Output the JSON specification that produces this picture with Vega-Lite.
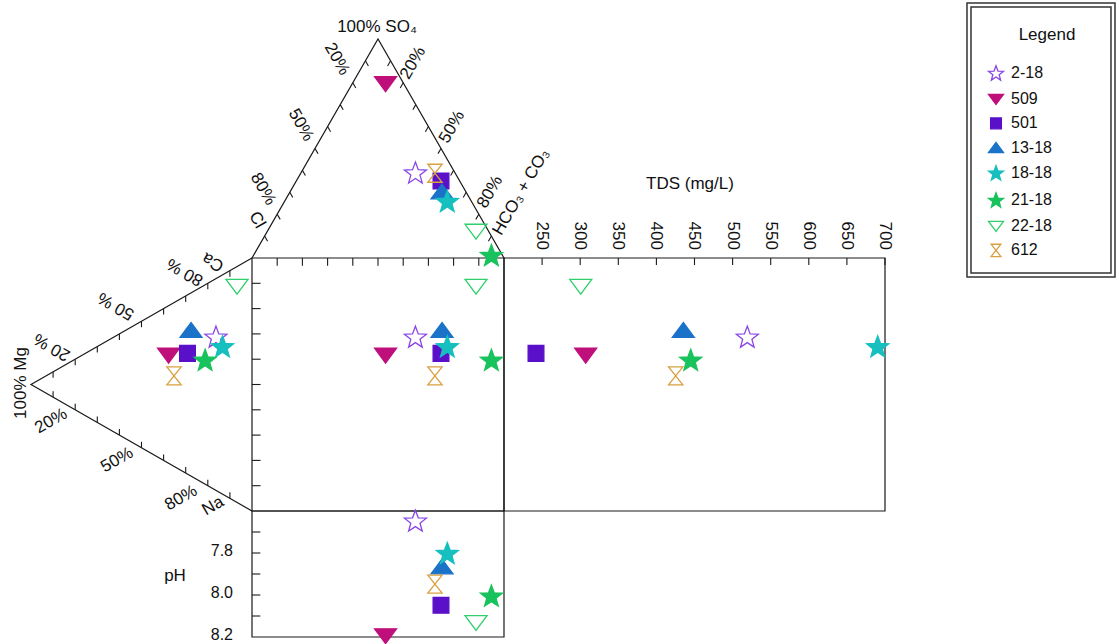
{
"$schema": "https://vega.github.io/schema/vega-lite/v6.json",
"width": 1119, "height": 644, "padding": 0, "autosize": "none", "background": "white",
"config": {
 "view": {"stroke": null},
 "axis": {"disable": true},
 "font": "Liberation Sans",
 "legend": {"orient": "none", "legendX": 987, "legendY": 64, "padding": 0, "labelFont": "Liberation Sans", "labelFontSize": 16, "labelColor": "#111", "symbolSize": 250, "symbolStrokeWidth": 1.3, "labelOffset": 6, "rowPadding": 7.2}
},
"datasets": {
 "samples": [
  {"id":"2-18","ax":64.85,"ay":133.8,"cx":-14.3,"cy":68.9,"tds":519.3,"ph":7.646},
  {"id":"509","ax":53.0,"ay":168.8,"cx":-33.1,"cy":61.5,"tds":307.2,"ph":8.195},
  {"id":"501","ax":75.0,"ay":130.4,"cx":-25.6,"cy":62.3,"tds":242.0,"ph":8.049},
  {"id":"13-18","ax":75.4,"ay":126.2,"cx":-24.2,"cy":71.5,"tds":435.3,"ph":7.865},
  {"id":"18-18","ax":77.5,"ay":122.5,"cx":-11.7,"cy":65.1,"tds":690.4,"ph":7.80},
  {"id":"21-18","ax":95.0,"ay":101.2,"cx":-18.6,"cy":59.8,"tds":445.0,"ph":8.003},
  {"id":"22-18","ax":88.9,"ay":110.5,"cx":-5.95,"cy":88.7,"tds":300.7,"ph":8.132},
  {"id":"612","ax":72.6,"ay":133.5,"cx":-30.95,"cy":53.4,"tds":425.3,"ph":7.948}
 ],
 "boxes": [
  {"x":0,"x2":100,"y":0,"y2":100},
  {"x":100,"x2":251.19,"y":0,"y2":100},
  {"x":0,"x2":100,"y":-49.8,"y2":0}
 ],
 "legendBoxes": [
  {"x":283.73,"x2":342.46,"y":92.49,"y2":200.79},
  {"x":285.32,"x2":340.87,"y":94.07,"y2":199.21}
 ],
 "tri": [
  {"tri":"a","o":0,"x":0,"y":100},{"tri":"a","o":1,"x":50,"y":186.6},{"tri":"a","o":2,"x":100,"y":100},
  {"tri":"c","o":0,"x":0,"y":100},{"tri":"c","o":1,"x":-87.7,"y":50},{"tri":"c","o":2,"x":0,"y":0}
 ],
 "ticks": [
  {"x":10,"y":100,"x2":10,"y2":96.9},{"x":20,"y":100,"x2":20,"y2":96.9},{"x":30,"y":100,"x2":30,"y2":96.9},
  {"x":40,"y":100,"x2":40,"y2":96.9},{"x":50,"y":100,"x2":50,"y2":96.9},{"x":60,"y":100,"x2":60,"y2":96.9},
  {"x":70,"y":100,"x2":70,"y2":96.9},{"x":80,"y":100,"x2":80,"y2":96.9},{"x":90,"y":100,"x2":90,"y2":96.9},
  {"x":0,"y":10,"x2":3.4,"y2":10},{"x":0,"y":20,"x2":3.4,"y2":20},{"x":0,"y":30,"x2":3.4,"y2":30},
  {"x":0,"y":40,"x2":3.4,"y2":40},{"x":0,"y":50,"x2":3.4,"y2":50},{"x":0,"y":60,"x2":3.4,"y2":60},
  {"x":0,"y":70,"x2":3.4,"y2":70},{"x":0,"y":80,"x2":3.4,"y2":80},{"x":0,"y":90,"x2":3.4,"y2":90},
  {"x":5,"y":108.66,"x2":6.19,"y2":106.61},{"x":10,"y":117.32,"x2":11.19,"y2":115.27},{"x":15,"y":125.98,"x2":16.19,"y2":123.93},
  {"x":20,"y":134.64,"x2":21.19,"y2":132.59},{"x":25,"y":143.3,"x2":26.19,"y2":141.25},{"x":30,"y":151.96,"x2":31.19,"y2":149.91},
  {"x":35,"y":160.62,"x2":36.19,"y2":158.57},{"x":40,"y":169.28,"x2":41.19,"y2":167.23},{"x":45,"y":177.94,"x2":46.19,"y2":175.89},
  {"x":95,"y":108.66,"x2":93.81,"y2":106.61},{"x":90,"y":117.32,"x2":88.81,"y2":115.27},{"x":85,"y":125.98,"x2":83.81,"y2":123.93},
  {"x":80,"y":134.64,"x2":78.81,"y2":132.59},{"x":75,"y":143.3,"x2":73.81,"y2":141.25},{"x":70,"y":151.96,"x2":68.81,"y2":149.91},
  {"x":65,"y":160.62,"x2":63.81,"y2":158.57},{"x":60,"y":169.28,"x2":58.81,"y2":167.23},{"x":55,"y":177.94,"x2":53.81,"y2":175.89},
  {"x":-8.77,"y":95,"x2":-8.77,"y2":92.63},{"x":-17.54,"y":90,"x2":-17.54,"y2":87.63},{"x":-26.31,"y":85,"x2":-26.31,"y2":82.63},
  {"x":-35.08,"y":80,"x2":-35.08,"y2":77.63},{"x":-43.85,"y":75,"x2":-43.85,"y2":72.63},{"x":-52.62,"y":70,"x2":-52.62,"y2":67.63},
  {"x":-61.39,"y":65,"x2":-61.39,"y2":62.63},{"x":-70.16,"y":60,"x2":-70.16,"y2":57.63},{"x":-78.93,"y":55,"x2":-78.93,"y2":52.63},
  {"x":-8.77,"y":5,"x2":-8.77,"y2":7.37},{"x":-17.54,"y":10,"x2":-17.54,"y2":12.37},{"x":-26.31,"y":15,"x2":-26.31,"y2":17.37},
  {"x":-35.08,"y":20,"x2":-35.08,"y2":22.37},{"x":-43.85,"y":25,"x2":-43.85,"y2":27.37},{"x":-52.62,"y":30,"x2":-52.62,"y2":32.37},
  {"x":-61.39,"y":35,"x2":-61.39,"y2":37.37},{"x":-70.16,"y":40,"x2":-70.16,"y2":42.37},{"x":-78.93,"y":45,"x2":-78.93,"y2":47.37}
 ],
 "labels": [
  {"g":"h","x":49.6,"y":191.3,"t":"100% SO₄"},
  {"g":"h","x":173.81,"y":129.25,"t":"TDS (mg/L)"},
  {"g":"h","x":-30.56,"y":-25.69,"t":"pH"},
  {"g":"h","x":315.48,"y":188.14,"t":"Legend"},
  {"g":"a60","x":33.73,"y":178.66,"t":"20%"},
  {"g":"a60","x":19.44,"y":152.57,"t":"50%"},
  {"g":"a60","x":4.37,"y":127.27,"t":"80%"},
  {"g":"a60","x":1.98,"y":115.02,"t":"Cl"},
  {"g":"m60","x":63.89,"y":177.08,"t":"20%"},
  {"g":"m60","x":79.37,"y":151.78,"t":"50%"},
  {"g":"m60","x":94.44,"y":126.09,"t":"80%"},
  {"g":"m60","x":106.75,"y":126.09,"t":"HCO₃ + CO₃"},
  {"g":"a210","x":-15.48,"y":98.42,"t":"Ca"},
  {"g":"a210","x":-26.59,"y":94.47,"t":"80 %"},
  {"g":"a210","x":-53.97,"y":81.03,"t":"50 %"},
  {"g":"a210","x":-79.37,"y":64.82,"t":"20 %"},
  {"g":"m30","x":-79.76,"y":35.57,"t":"20%"},
  {"g":"m30","x":-53.57,"y":20.16,"t":"50%"},
  {"g":"m30","x":-28.17,"y":5.14,"t":"80%"},
  {"g":"m30","x":-15.48,"y":1.98,"t":"Na"},
  {"g":"m90","x":-91.67,"y":50.59,"t":"100% Mg"}
 ],
 "tdsTicks": [{"tds":250},{"tds":300},{"tds":350},{"tds":400},{"tds":450},{"tds":500},{"tds":550},{"tds":600},{"tds":650},{"tds":700}],
 "phTicks": [{"ph":7.7},{"ph":7.8},{"ph":7.9},{"ph":8.0},{"ph":8.1}],
 "phLabels": [{"ph":7.8},{"ph":8.0},{"ph":8.2}]
},
"resolve": {"scale": {"x": "independent", "y": "independent"}},
"layer": [
 {
  "encoding": {
   "x": {"field":"x","type":"quantitative","scale":{"domain":[-100,344.05],"nice":false,"zero":false}},
   "y": {"field":"y","type":"quantitative","scale":{"domain":[-52.57,201.98],"nice":false,"zero":false}}
  },
  "layer": [
   {"data":{"name":"boxes"},"mark":{"type":"rect","fill":"transparent","stroke":"#1a1a1a","strokeWidth":1.2},
    "encoding":{"x2":{"field":"x2"},"y2":{"field":"y2"}}},
   {"data":{"name":"legendBoxes"},"mark":{"type":"rect","fill":"transparent","stroke":"#333","strokeWidth":1.5},
    "encoding":{"x2":{"field":"x2"},"y2":{"field":"y2"}}},
   {"data":{"name":"tri"},"mark":{"type":"line","stroke":"#1a1a1a","strokeWidth":1.2},
    "encoding":{"detail":{"field":"tri"},"order":{"field":"o","type":"quantitative"}}},
   {"data":{"name":"ticks"},"mark":{"type":"rule","stroke":"#1a1a1a","strokeWidth":1.1},
    "encoding":{"x2":{"field":"x2"},"y2":{"field":"y2"}}},
   {"data":{"name":"labels"},"transform":[{"filter":"datum.g == 'h'"}],
    "mark":{"type":"text","fontSize":17,"color":"#111","align":"center","baseline":"middle"},
    "encoding":{"text":{"field":"t"}}},
   {"data":{"name":"labels"},"transform":[{"filter":"datum.g == 'a60'"}],
    "mark":{"type":"text","fontSize":17,"color":"#111","align":"center","baseline":"middle","angle":60},
    "encoding":{"text":{"field":"t"}}},
   {"data":{"name":"labels"},"transform":[{"filter":"datum.g == 'm60'"}],
    "mark":{"type":"text","fontSize":17,"color":"#111","align":"center","baseline":"middle","angle":300},
    "encoding":{"text":{"field":"t"}}},
   {"data":{"name":"labels"},"transform":[{"filter":"datum.g == 'a210'"}],
    "mark":{"type":"text","fontSize":17,"color":"#111","align":"center","baseline":"middle","angle":210},
    "encoding":{"text":{"field":"t"}}},
   {"data":{"name":"labels"},"transform":[{"filter":"datum.g == 'm30'"}],
    "mark":{"type":"text","fontSize":17,"color":"#111","align":"center","baseline":"middle","angle":330},
    "encoding":{"text":{"field":"t"}}},
   {"data":{"name":"labels"},"transform":[{"filter":"datum.g == 'm90'"}],
    "mark":{"type":"text","fontSize":17,"color":"#111","align":"center","baseline":"middle","angle":270},
    "encoding":{"text":{"field":"t"}}},
   {"data":{"name":"samples"},"mark":{"type":"point","opacity":1,"strokeWidth":1.3,"size":535},
    "encoding":{
     "x":{"field":"ax","type":"quantitative","scale":{"domain":[-100,344.05],"nice":false,"zero":false}},
     "y":{"field":"ay","type":"quantitative","scale":{"domain":[-52.57,201.98],"nice":false,"zero":false}},
     "fill":{"field":"id","type":"nominal","title":null,"scale":{"domain":["2-18","509","501","13-18","18-18","21-18","22-18","612"],"range":["transparent","#bf0f7b","#5a0fc8","#1a73c8","#17bfbf","#18c25c","transparent","transparent"]}},
     "stroke":{"field":"id","type":"nominal","title":null,"scale":{"domain":["2-18","509","501","13-18","18-18","21-18","22-18","612"],"range":["#8b46e6","#bf0f7b","#5a0fc8","#1a73c8","#17bfbf","#18c25c","#2ecf6c","#d9a040"]}},
     "shape":{"field":"id","type":"nominal","title":null,"scale":{"domain":["2-18","509","501","13-18","18-18","21-18","22-18","612"],"range":[
      "M0,-0.905L0.247,-0.245L0.951,-0.214L0.399,0.225L0.588,0.904L0,0.515L-0.588,0.904L-0.399,0.225L-0.951,-0.214L-0.247,-0.245Z",
      "M-0.95,-0.62L0.95,-0.62L0,0.66Z",
      "M-0.68,-0.68L0.68,-0.68L0.68,0.68L-0.68,0.68Z",
      "M0,-0.66L0.95,0.62L-0.95,0.62Z",
      "M0,-0.905L0.247,-0.245L0.951,-0.214L0.399,0.225L0.588,0.904L0,0.515L-0.588,0.904L-0.399,0.225L-0.951,-0.214L-0.247,-0.245Z",
      "M0,-0.905L0.247,-0.245L0.951,-0.214L0.399,0.225L0.588,0.904L0,0.515L-0.588,0.904L-0.399,0.225L-0.951,-0.214L-0.247,-0.245Z",
      "M-0.95,-0.62L0.95,-0.62L0,0.66Z",
      "M-0.62,-0.78L0.62,-0.78L-0.62,0.78L0.62,0.78Z"]}}
    }},
   {"data":{"name":"samples"},"mark":{"type":"point","opacity":1,"strokeWidth":1.3,"size":535},
    "encoding":{
     "x":{"field":"cx","type":"quantitative","scale":{"domain":[-100,344.05],"nice":false,"zero":false}},
     "y":{"field":"cy","type":"quantitative","scale":{"domain":[-52.57,201.98],"nice":false,"zero":false}},
     "fill":{"field":"id","type":"nominal","title":null},
     "stroke":{"field":"id","type":"nominal","title":null},
     "shape":{"field":"id","type":"nominal","title":null}
    }},
   {"data":{"name":"samples"},"mark":{"type":"point","opacity":1,"strokeWidth":1.3,"size":535},
    "encoding":{
     "x":{"field":"ax","type":"quantitative","scale":{"domain":[-100,344.05],"nice":false,"zero":false}},
     "y":{"field":"cy","type":"quantitative","scale":{"domain":[-52.57,201.98],"nice":false,"zero":false}},
     "fill":{"field":"id","type":"nominal","title":null},
     "stroke":{"field":"id","type":"nominal","title":null},
     "shape":{"field":"id","type":"nominal","title":null}
    }}
  ]
 },
 {
  "encoding": {
   "x": {"field":"tds","type":"quantitative","scale":{"domain":[-461.42,1007.09],"nice":false,"zero":false}}
  },
  "layer": [
   {"data":{"name":"tdsTicks"},"mark":{"type":"rule","stroke":"#1a1a1a","strokeWidth":1.1},
    "encoding":{"y":{"datum":100,"type":"quantitative","scale":{"domain":[-52.57,201.98],"nice":false,"zero":false}},"y2":{"datum":97.2}}},
   {"data":{"name":"tdsTicks"},"mark":{"type":"text","fontSize":17,"color":"#111","angle":90,"align":"right","baseline":"middle"},
    "encoding":{"y":{"datum":103.2,"type":"quantitative","scale":{"domain":[-52.57,201.98],"nice":false,"zero":false}},"text":{"field":"tds","type":"quantitative"}}},
   {"data":{"name":"samples"},"mark":{"type":"point","opacity":1,"strokeWidth":1.3,"size":535},
    "encoding":{
     "y":{"field":"cy","type":"quantitative","scale":{"domain":[-52.57,201.98],"nice":false,"zero":false}},
     "fill":{"field":"id","type":"nominal","title":null},
     "stroke":{"field":"id","type":"nominal","title":null},
     "shape":{"field":"id","type":"nominal","title":null}
    }}
  ]
 },
 {
  "encoding": {
   "y": {"field":"ph","type":"quantitative","scale":{"domain":[5.1667,8.2333],"nice":false,"zero":false,"reverse":true}}
  },
  "layer": [
   {"data":{"name":"phTicks"},"mark":{"type":"rule","stroke":"#1a1a1a","strokeWidth":1.1},
    "encoding":{"x":{"datum":0,"type":"quantitative","scale":{"domain":[-100,344.05],"nice":false,"zero":false}},"x2":{"datum":3.3}}},
   {"data":{"name":"phLabels"},"mark":{"type":"text","fontSize":16,"color":"#111","align":"right","baseline":"middle","dy":-2},
    "encoding":{"x":{"datum":-7.54,"type":"quantitative","scale":{"domain":[-100,344.05],"nice":false,"zero":false}},"text":{"field":"ph","type":"quantitative","format":".1f"}}},
   {"data":{"name":"samples"},"mark":{"type":"point","opacity":1,"strokeWidth":1.3,"size":535},
    "encoding":{
     "x":{"field":"ax","type":"quantitative","scale":{"domain":[-100,344.05],"nice":false,"zero":false}},
     "fill":{"field":"id","type":"nominal","title":null},
     "stroke":{"field":"id","type":"nominal","title":null},
     "shape":{"field":"id","type":"nominal","title":null}
    }}
  ]
 }
]
}
